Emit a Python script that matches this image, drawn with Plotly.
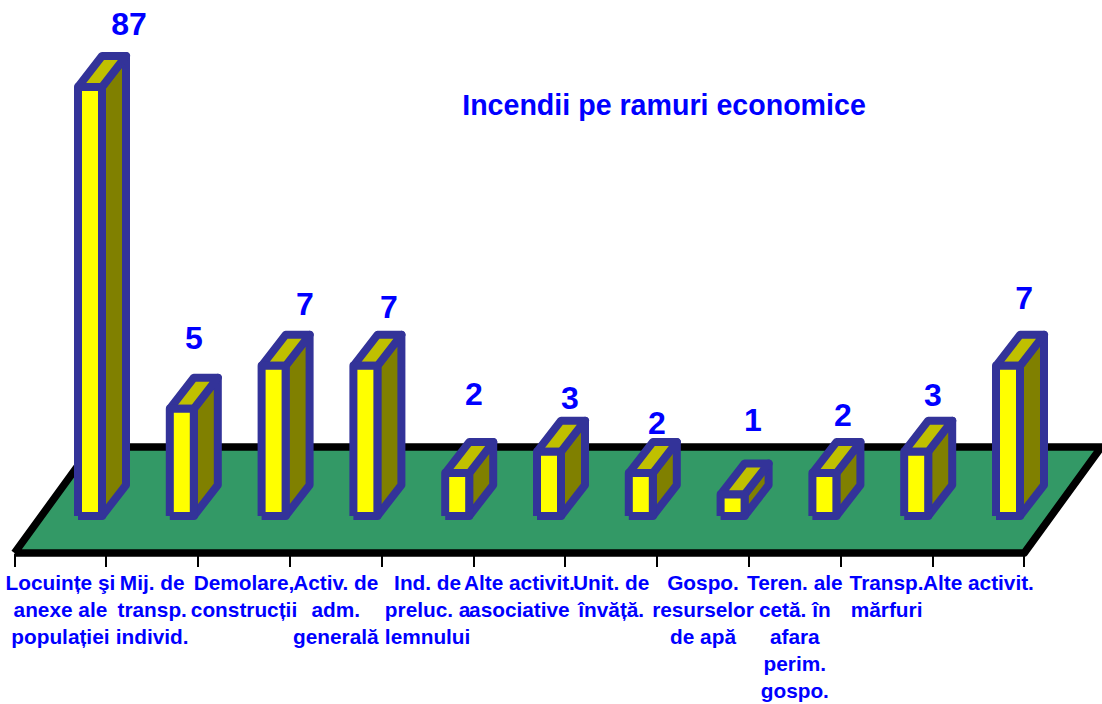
import plotly.graph_objects as go

# Date
categorii = [
    "Locuințe şi<br>anexe ale<br>populației",
    "Mij. de<br>transp.<br>individ.",
    "Demolare,<br>construcții",
    "Activ. de<br>adm.<br>generală",
    "Ind. de<br>preluc. a<br>lemnului",
    "Alte activit.<br>asociative",
    "Unit. de<br>învăță.",
    "Gospo.<br>resurselor<br>de apă",
    "Teren. ale<br>cetă. în<br>afara<br>perim.<br>gospo.",
    "Transp.<br>mărfuri",
    "Alte activit.",
]
valori = [87, 5, 7, 7, 2, 3, 2, 1, 2, 3, 7]

# Axa valorilor se opreste la 20, deci prima bara e taiata
MAX_AXA = 20

# Scara: pixeli pe categorie si pe unitate
PX_X = 91.8
PX_Y = 21.45
LATIME = 1102
INALTIME = 704
X0_PX = 14.5
Y0_PX = 516
Y_PODEA_PX = 553

# Geometria falsului 3D, in unitati de axa
bara_start = 63.5 / PX_X
bara_lat = 24 / PX_X
adanc_x = 24 / PX_X
adanc_y = 31 / PX_Y
podea_y0 = (Y0_PX - Y_PODEA_PX) / PX_Y
podea_y1 = (Y0_PX - 447) / PX_Y
podea_dx = 77 / PX_X

# Ajustari manuale ale etichetelor (categorii, valori)
etich_dx = [0.294, 0.0, 0.21, 0.126, 0.052, 0.098, 0.046, 0.09, 0.07, 0.05, 0.044]
etich_dy = [1.35, 1.71, 1.31, 1.17, 2.1, 0.91, 0.75, 1.89, 1.12, 1.05, 1.58]

BLEU = "#0000FF"
CONTUR = "#333399"
FONT = "Liberation Sans"

fig = go.Figure()

# Podeaua
n = len(categorii)
fig.add_trace(go.Scatter(
    x=[0, n, n + podea_dx, podea_dx, 0],
    y=[podea_y0, podea_y0, podea_y1, podea_y1, podea_y0],
    mode="lines", fill="toself", fillcolor="#339966",
    line=dict(color="black", width=7.5), hoverinfo="skip",
))


def poligoane(fete):
    xs, ys = [], []
    for fata in fete:
        xs += [p[0] for p in fata] + [None]
        ys += [p[1] for p in fata] + [None]
    return xs, ys


laterale, sus, fata = [], [], []
for i, v in enumerate(valori):
    h = min(v, MAX_AXA)
    x0 = i + bara_start
    x1 = x0 + bara_lat
    x2 = x1 + adanc_x
    fata.append([(x0, 0), (x1, 0), (x1, h), (x0, h), (x0, 0)])
    laterale.append([(x1, 0), (x2, adanc_y), (x2, h + adanc_y), (x1, h), (x1, 0)])
    sus.append([(x0, h), (x1, h), (x2, h + adanc_y), (x0 + adanc_x, h + adanc_y), (x0, h)])

for fete, culoare in [(laterale, "#808000"), (sus, "#C0C000"), (fata, "#FFFF00")]:
    xs, ys = poligoane(fete)
    fig.add_trace(go.Scatter(
        x=xs, y=ys, mode="lines", fill="toself", fillcolor=culoare,
        line=dict(color=CONTUR, width=8), hoverinfo="skip",
    ))

# Etichetele de valoare
fig.add_trace(go.Scatter(
    x=[i + bara_start + bara_lat + dx for i, dx in enumerate(etich_dx)],
    y=[min(v, MAX_AXA) + adanc_y + dy for v, dy in zip(valori, etich_dy)],
    mode="text", text=[str(v) for v in valori], textposition="middle center",
    textfont=dict(family=FONT, size=32, color=BLEU, weight="bold"),
    cliponaxis=False, hoverinfo="skip",
))

fig.update_layout(
    width=LATIME, height=INALTIME, autosize=False,
    margin=dict(l=0, r=0, t=0, b=0),
    plot_bgcolor="white", paper_bgcolor="white",
    showlegend=False,
    font=dict(family=FONT, color=BLEU),
    title=dict(text="<b>Incendii pe ramuri economice</b>", x=664 / LATIME, y=1 - 105 / INALTIME,
               xanchor="center", yanchor="middle", font=dict(size=28.6, color=BLEU, family=FONT)),
    xaxis=dict(
        range=[-X0_PX / PX_X, (LATIME - X0_PX) / PX_X],
        anchor="free", position=(INALTIME - Y_PODEA_PX) / INALTIME,
        tickvals=[i + 0.5 for i in range(n)], ticktext=[f"<b>{c}</b>" for c in categorii],
        tickangle=0, ticks="", showgrid=False, zeroline=False, showline=False,
        ticklabelstandoff=15,
        tickfont=dict(size=20.8, color=BLEU, family=FONT),
        minor=dict(tickvals=list(range(n + 1)), ticks="outside", ticklen=13, tickwidth=2,
                   tickcolor="black", showgrid=False),
    ),
    yaxis=dict(
        range=[(Y0_PX - INALTIME) / PX_Y, Y0_PX / PX_Y],
        visible=False, showgrid=False, zeroline=False,
    ),
)

# Fara marginea implicita a paginii si cu colturi rotunjite la contururi
post = """
document.body.style.margin = '0';
document.querySelectorAll('path.js-line').forEach(function (p) { p.style.strokeLinejoin = 'round'; });
"""
fig.write_html("out.html", post_script=post, config=dict(displayModeBar=False))
